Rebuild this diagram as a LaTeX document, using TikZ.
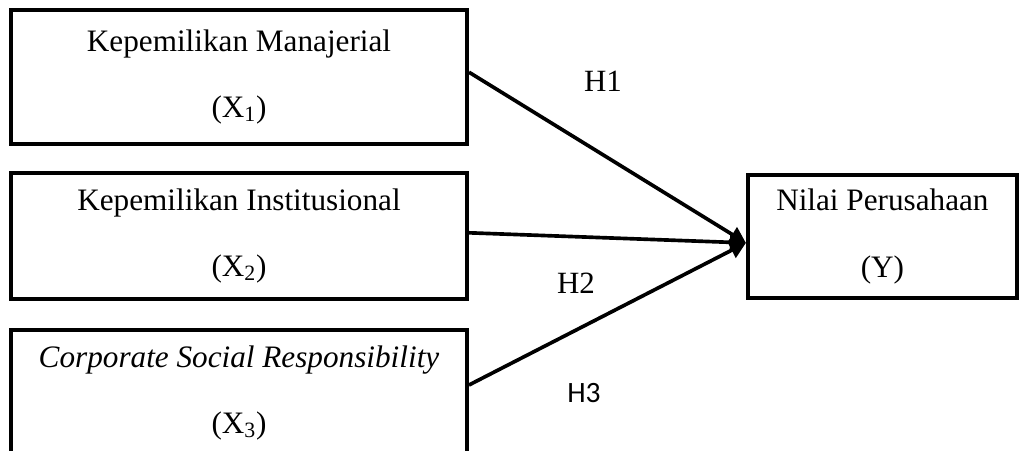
\documentclass[tikz,border=0pt]{standalone}
\usepackage{fontspec}
\setmainfont{Liberation Serif}
\newfontfamily\hfont{Carlito}
\usetikzlibrary{positioning,arrows.meta}

\tikzset{
  kotak/.style={draw, line width=2.8pt, align=center, inner sep=0pt,
    font=\fontsize{22.2}{47}\selectfont},
  panah/.style={line width=2.6pt, -{Triangle[length=0.4cm,width=0.42cm]}},
  hipo/.style={font=\fontsize{22}{26}\selectfont},
}

\begin{document}
\begin{tikzpicture}
				\useasboundingbox (0,0) rectangle (25.5,11.25);
				\clip (0,0) rectangle (25.5,11.25);
				
				% Variabel independen
				\node[kotak, minimum width=11.4cm, minimum height=3.35cm] (x1) at (5.975, 9.325) {Kepemilikan Manajerial\\(X\textsubscript{1})};
				\node[kotak, minimum width=11.4cm, minimum height=3.15cm] (x2) at (5.975, 5.35) {Kepemilikan Institusional\\(X\textsubscript{2})};
				\node[kotak, minimum width=11.4cm, minimum height=3.15cm] (x3) at (5.975, 1.425) {\textit{Corporate Social Responsibility}\\(X\textsubscript{3})};
				
				% Variabel dependen
				\node[kotak, minimum width=6.725cm, minimum height=3.075cm] (y) at (22.06, 5.3375) {Nilai Perusahaan\\(Y)};
				\coordinate (ujung) at ([yshift=-0.16cm]y.west);
				
				% Hipotesis
				\draw[panah] ([yshift=0.12cm]x1.east) -- (ujung);
				\draw[panah] ([yshift=0.08cm]x2.east) -- (ujung);
				\draw[panah] ([yshift=0.2cm]x3.east) -- (ujung);
				
				\node[hipo] (h1) at (15.075, 9.225) {H1};
				\node[hipo] (h2) at (14.4, 4.175) {H2};
				\node[hipo, font=\hfont\fontsize{21}{25}\selectfont] (h3) at (14.6, 1.425) {H3};
			\end{tikzpicture}
\end{document}
